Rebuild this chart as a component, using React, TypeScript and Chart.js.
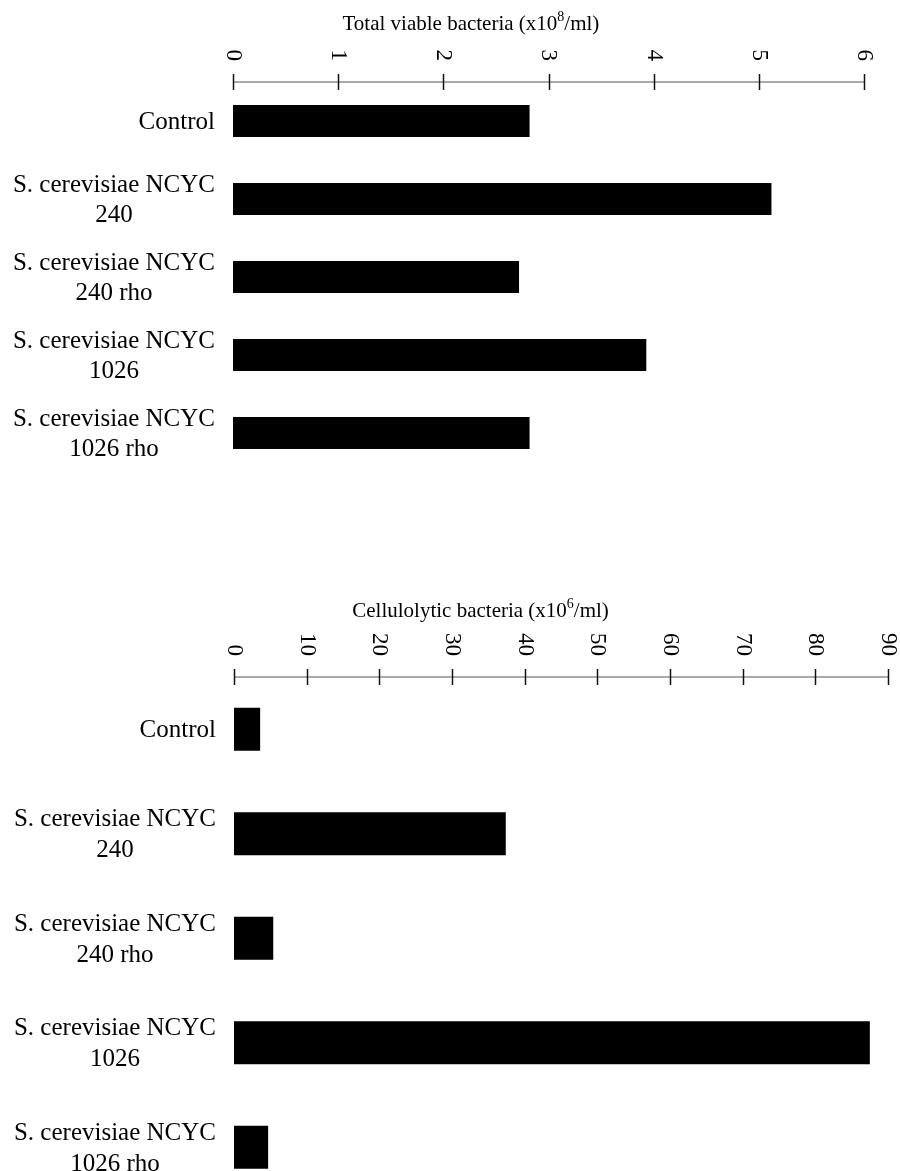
import React, { useEffect, useRef } from "react";
import { Chart, registerables } from "chart.js";

Chart.register(...registerables);

// ---- data ----
const CATEGORIES: string[][] = [
  ["Control"],
  ["S. cerevisiae NCYC", "240"],
  ["S. cerevisiae NCYC", "240 rho"],
  ["S. cerevisiae NCYC", "1026"],
  ["S. cerevisiae NCYC", "1026 rho"],
];
const TOTAL_VIABLE = [2.82, 5.12, 2.72, 3.93, 2.82];
const CELLULOLYTIC = [3.6, 37.4, 5.4, 87.5, 4.7];
const TOTAL_TICKS = [0, 1, 2, 3, 4, 5, 6];
const CELL_TICKS = [0, 10, 20, 30, 40, 50, 60, 70, 80, 90];
const TOTAL_TITLE = ["Total viable bacteria (x10", "8", "/ml)"];
const CELL_TITLE = ["Cellulolytic bacteria (x10", "6", "/ml)"];

const FONT = '"Liberation Serif", "Times New Roman", Times, serif';

type PanelProps = {
  values: number[];
  ticks: number[];
  title: string[];
  xMax: number;
  yMax: number;
  width: number;
  height: number;
  padding: { top: number; bottom: number; left: number; right: number };
  titleGap: number;
  lineGap: number;
};

function makeAxisPlugin(p: PanelProps) {
  return {
    id: "customAxis",
    afterDraw(chart: any) {
      const ctx = chart.ctx;
      const area = chart.chartArea;
      const xs = chart.scales.x;
      const ys = chart.scales.y;
      const top = area.top;
      ctx.save();
      // axis line
      ctx.strokeStyle = "#8c8c8c";
      ctx.lineWidth = 1.6;
      ctx.beginPath();
      ctx.moveTo(xs.getPixelForValue(p.ticks[0]), top);
      ctx.lineTo(xs.getPixelForValue(p.ticks[p.ticks.length - 1]), top);
      ctx.stroke();
      // tick marks crossing the axis
      ctx.strokeStyle = "#111";
      ctx.lineWidth = 1.5;
      for (const t of p.ticks) {
        const x = Math.round(xs.getPixelForValue(t)) + 0.5;
        ctx.beginPath();
        ctx.moveTo(x, top - 8);
        ctx.lineTo(x, top + 8);
        ctx.stroke();
      }
      // rotated tick labels (reading top to bottom)
      ctx.fillStyle = "#000";
      ctx.font = `23px ${FONT}`;
      for (const t of p.ticks) {
        const x = xs.getPixelForValue(t);
        ctx.save();
        ctx.translate(x, top - 21);
        ctx.rotate(Math.PI / 2);
        ctx.textAlign = "right";
        ctx.textBaseline = "middle";
        ctx.fillText(String(t), 0, 0);
        ctx.restore();
      }
      // title with superscript
      const mainFont = `21px ${FONT}`;
      const supFont = `14px ${FONT}`;
      ctx.font = mainFont;
      const w1 = ctx.measureText(p.title[0]).width;
      const w3 = ctx.measureText(p.title[2]).width;
      ctx.font = supFont;
      const w2 = ctx.measureText(p.title[1]).width;
      const total = w1 + w2 + w3;
      const cx = area.left + (area.right - area.left) * 0.377;
      let tx = cx - total / 2;
      const by = top - p.titleGap;
      ctx.textAlign = "left";
      ctx.textBaseline = "alphabetic";
      ctx.font = mainFont;
      ctx.fillText(p.title[0], tx, by);
      tx += w1;
      ctx.font = supFont;
      ctx.fillText(p.title[1], tx, by - 9);
      tx += w2;
      ctx.font = mainFont;
      ctx.fillText(p.title[2], tx, by);
      // category labels
      ctx.font = `25px ${FONT}`;
      const rightX = area.left - 18;
      CATEGORIES.forEach((lines, i) => {
        const cy = ys.getPixelForValue(i);
        if (lines.length === 1) {
          ctx.textAlign = "right";
          ctx.fillText(lines[0], rightX, cy + 8);
        } else {
          const w = ctx.measureText(lines[0]).width;
          const mid = rightX - w / 2;
          ctx.textAlign = "right";
          ctx.fillText(lines[0], rightX, cy - p.lineGap / 2 + 8);
          ctx.textAlign = "center";
          ctx.fillText(lines[1], mid, cy + p.lineGap / 2 + 8);
        }
      });
      ctx.restore();
    },
  };
}

function Panel(p: PanelProps) {
  const ref = useRef<HTMLCanvasElement>(null);
  useEffect(() => {
    if (!ref.current) return;
    const chart = new Chart(ref.current, {
      type: "bar",
      data: {
        datasets: [
          {
            data: p.values.map((v, i) => ({ x: v, y: i })),
            backgroundColor: "#000",
            borderWidth: 0,
            barPercentage: 0.41,
            categoryPercentage: 1,
          },
        ],
      },
      options: {
        indexAxis: "y",
        animation: false,
        responsive: false,
        devicePixelRatio: 1,
        layout: { padding: p.padding },
        plugins: { legend: { display: false }, tooltip: { enabled: false } },
        scales: {
          x: { type: "linear", min: 0, max: p.xMax, display: false, offset: false },
          y: {
            type: "linear",
            min: -0.5,
            max: p.yMax,
            reverse: true,
            display: false,
            offset: false,
            grace: 0,
            afterBuildTicks: (s: any) => {
              s.ticks = CATEGORIES.map((_, i) => ({ value: i }));
            },
          },
        },
      },
      plugins: [makeAxisPlugin(p)],
    } as any);
    return () => chart.destroy();
  }, []);
  return (
    <canvas
      ref={ref}
      width={p.width}
      height={p.height}
      style={{ display: "block", width: p.width, height: p.height }}
    />
  );
}

export default function App() {
  return (
    <div
      style={{
        position: "absolute",
        top: 0,
        left: 0,
        width: 900,
        height: 1171,
        overflow: "hidden",
        background: "#fff",
      }}
    >
      <Panel
        values={TOTAL_VIABLE}
        ticks={TOTAL_TICKS}
        title={TOTAL_TITLE}
        xMax={6}
        yMax={4.5}
        width={900}
        height={540}
        padding={{ top: 82, bottom: 68, left: 233, right: 36 }}
        titleGap={52}
        lineGap={30}
      />
      <Panel
        values={CELLULOLYTIC}
        ticks={CELL_TICKS}
        title={CELL_TITLE}
        xMax={90}
        yMax={4.227}
        width={900}
        height={631}
        padding={{ top: 137, bottom: 0, left: 234, right: 12 }}
        titleGap={60}
        lineGap={31}
      />
    </div>
  );
}
